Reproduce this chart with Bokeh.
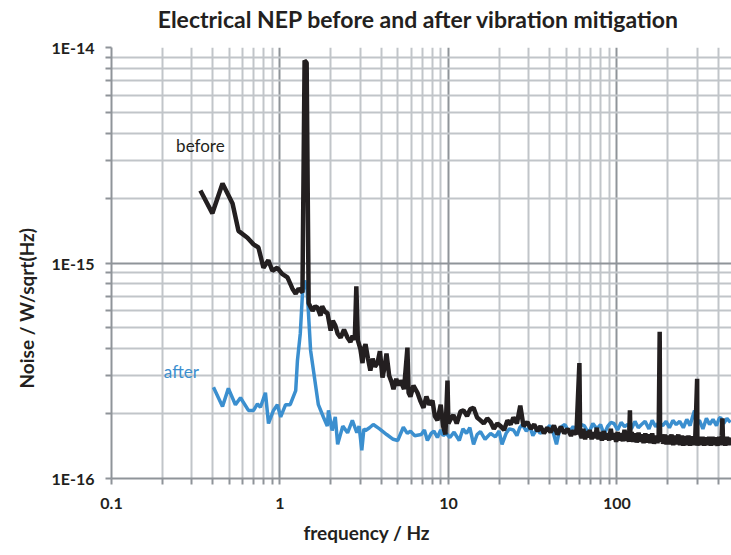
from bokeh.plotting import figure
from bokeh.models import FixedTicker, CustomJSTickFormatter, Label, Range1d, Title, LogAxis
from bokeh.embed import file_html
from bokeh.resources import INLINE

# ---- data (frequency in Hz, noise in units of 1e-16 W/sqrt(Hz)) ----
before_f = [0.337, 0.397, 0.456, 0.523, 0.567, 0.641, 0.697, 0.745, 0.798, 0.853,
            0.901, 0.965, 1.03, 1.108, 1.186, 1.24, 1.29, 1.36, 1.40, 1.44, 1.48,
            1.56, 1.62, 1.67, 1.74, 1.78, 1.86, 1.91, 2.0, 2.06, 2.13, 2.2, 2.29,
            2.4, 2.52, 2.62, 2.70, 2.78, 2.84, 2.90, 3.0, 3.09, 3.15, 3.22, 3.33,
            3.44, 3.55, 3.66, 3.79, 3.92, 4.06, 4.18, 4.29, 4.45, 4.60, 4.72, 4.90,
            5.05, 5.19, 5.45, 5.71, 5.8, 5.95, 6.2, 6.55, 6.8, 7.11, 7.4, 7.7, 8.04,
            8.3, 8.61, 9.0, 9.3, 9.6, 9.87, 10.0,
            10.2, 10.7, 11.2, 11.8, 12.3, 12.9, 13.5, 14.1, 14.8, 15.5, 16.2, 17.0,
            17.8, 18.6, 19.5, 20.4, 21.4, 22.4, 23.4, 24.3, 25.5, 26.7, 27.9, 29.4,
            30.8, 32.3, 33.8, 35.2, 36.9, 38.6, 40.4, 42.3, 44.4, 46.5, 48.7, 51.0,
            53.4, 55.2, 57.5, 59.9, 60.5, 61.8,
            63.2, 64.8, 66.0, 67.5, 69.0, 70.8, 72.5, 74.2, 76.0, 77.8, 79.5, 81.5,
            83.5, 85.6, 87.8, 90, 92, 94, 96.5, 99, 101, 103.5, 106, 108.5, 111,
            113.5, 116, 118, 119.5, 120.5, 122.5, 125, 128, 131, 134.5, 138, 141,
            144, 147.5, 151, 154.5, 158, 162, 166, 170, 174, 177, 179.5, 180.5, 184,
            188, 192.5, 197, 201.5, 206, 211, 216, 221, 226, 231.5, 237, 242.5, 248,
            254, 260, 266, 272, 278.5, 285, 292, 299.5, 300.5, 307.5, 315, 322.5,
            330, 337.5, 345, 353, 361, 369.5, 378, 387, 396, 405, 415, 419, 423, 427,
            430, 440, 450, 461, 472]
before_v = [21.7, 17.0, 23.4, 18.9, 14.1, 13.1, 12.2, 11.8, 9.5, 10.3,
            9.2, 9.5, 8.9, 8.57, 7.6, 7.2, 7.6, 7.3, 87.0, 85.0, 6.5,
            6.0, 6.3, 6.2, 5.7, 6.3, 5.9, 5.9, 4.86, 5.4, 5.13, 4.7, 4.5,
            4.9, 4.5, 4.3, 4.6, 4.4, 7.8, 4.37, 4.0, 3.43, 4.0, 4.2, 3.6,
            3.17, 3.6, 3.3, 3.43, 3.9, 2.94, 3.3, 3.8, 3.0, 2.8, 2.6, 2.9,
            2.7, 2.85, 2.6, 4.05, 2.5, 2.4, 2.7, 2.5, 2.3, 2.13, 2.4, 2.2, 2.3,
            1.95, 1.86, 2.2, 1.75, 1.6, 2.85, 1.8,
            1.86, 1.97, 1.80, 2.05, 2.07, 1.95, 2.10, 2.13, 1.92, 1.86, 1.80, 1.90,
            1.83, 1.70, 1.80, 1.75, 1.68, 1.86, 1.78, 1.92, 1.80, 2.18, 1.75, 1.83,
            1.70, 1.78, 1.66, 1.75, 1.62, 1.72, 1.64, 1.76, 1.60, 1.74, 1.62, 1.70,
            1.58, 1.67, 1.60, 3.43, 1.62, 1.54,
            1.70, 1.52, 1.66, 1.55, 1.68, 1.52, 1.64, 1.54, 1.72, 1.52, 1.64, 1.50,
            1.66, 1.52, 1.62, 1.50, 1.70, 1.52, 1.62, 1.48, 1.64, 1.50, 1.62, 1.49, 1.68,
            1.50, 1.60, 1.48, 2.07, 1.52, 1.64, 1.48, 1.62, 1.47, 1.63, 1.48, 1.60,
            1.46, 1.62, 1.47, 1.60, 1.46, 1.62, 1.45, 1.58, 1.46, 1.60, 4.80, 1.48, 1.60,
            1.45, 1.60, 1.44, 1.58, 1.44, 1.60, 1.43, 1.58, 1.44, 1.60, 1.43, 1.58, 1.42,
            1.57, 1.43, 1.58, 1.42, 1.57, 1.43, 1.56, 2.90, 1.42, 1.56, 1.43, 1.56,
            1.42, 1.55, 1.43, 1.56, 1.42, 1.56, 1.43, 1.55, 1.42, 1.56, 1.43, 1.58, 1.90, 1.45,
            1.56, 1.42, 1.56, 1.43, 1.55]

after_f = [0.403, 0.456, 0.494, 0.544, 0.583, 0.650, 0.697, 0.735, 0.766, 0.820,
           0.855, 0.915, 0.965, 1.01, 1.08, 1.15, 1.24, 1.27, 1.32, 1.36, 1.40,
           1.45, 1.52, 1.69, 1.81, 1.91, 1.94, 2.04, 2.13, 2.2, 2.36,
           2.52, 2.69, 2.86, 2.95, 3.06, 3.15, 3.22, 3.4, 3.58, 3.9, 4.3, 4.7, 5.0,
           5.4, 5.7, 5.95, 6.3, 6.9, 7.2, 7.5, 7.9, 8.2, 8.6, 9.0, 9.3, 9.7, 10.2,
           10.8, 11.6, 12.2, 12.8, 13.4, 14.1, 14.8, 15.5, 16.5, 17.8, 19.0, 20.0,
           20.8, 22.0, 23.0, 24.3, 25.5, 26.5, 27.5, 29.0, 30.5, 31.7, 33.5, 35.0,
           37.7, 40.0, 42.0, 43.8, 46.0, 49.1, 52.0, 55.0, 57.9, 61, 64, 68, 72, 76,
           80, 84, 88, 92, 96, 101, 106, 111, 116, 122, 128, 134, 140, 147, 155, 162,
           170, 178, 187, 196, 205, 215, 225, 236, 248, 260, 272, 281, 289, 295, 309,
           324, 340, 355, 372, 390, 405, 413, 430, 450, 472]
after_v = [2.65, 2.16, 2.62, 2.2, 2.37, 2.07, 2.07, 2.22, 2.14, 2.5,
           1.8, 2.07, 2.2, 1.93, 2.2, 2.2, 2.56, 3.53, 4.7, 7.2, 8.3,
           7.5, 3.93, 2.2, 1.93, 1.75, 2.07, 1.67, 1.93, 1.44, 1.75,
           1.63, 1.86, 1.63, 1.75, 1.35, 1.70, 1.67, 1.72, 1.78, 1.70, 1.60, 1.52, 1.50,
           1.73, 1.62, 1.66, 1.58, 1.60, 1.68, 1.50, 1.62, 1.66, 1.55, 1.68, 1.58, 1.62, 1.55,
           1.64, 1.50, 1.70, 1.62, 1.72, 1.44, 1.60, 1.65, 1.52, 1.62, 1.56, 1.66,
           1.44, 1.62, 1.70, 1.68, 1.58, 1.72, 1.78, 1.66, 1.74, 1.58, 1.70, 1.62,
           1.68, 1.76, 1.62, 1.44, 1.72, 1.78, 1.64, 1.74, 1.66, 1.78, 1.76, 1.62, 1.80, 1.70,
           1.78, 1.60, 1.74, 1.82, 1.80, 1.68, 1.82, 1.74, 1.78, 1.70, 1.84, 1.72, 1.78, 1.84, 1.70, 1.86,
           1.74, 1.82, 1.76, 1.84, 1.72, 1.86, 1.78, 1.84, 1.72, 1.88, 1.76, 1.93, 2.07, 1.80, 1.86,
           1.70, 1.90, 1.78, 1.88, 1.76, 1.90, 1.92, 1.80, 1.90, 1.82]

x_major = [0.1, 1, 10, 100]
x_minor = [0.2, 0.3, 0.4, 0.5, 0.6, 0.7, 0.8, 0.9, 2, 3, 4, 5, 6, 7, 8, 9,
           20, 30, 40, 50, 60, 70, 80, 90, 200, 300, 400]
y_major = [1e-16, 1e-15, 1e-14]
y_minor = [2e-16, 3e-16, 4e-16, 5e-16, 6e-16, 7e-16, 8e-16, 9e-16,
           2e-15, 3e-15, 4e-15, 5e-15, 6e-15, 7e-15, 8e-15, 9e-15]

title_text = "Electrical NEP before and after vibration  mitigation"
x_label = "frequency / Hz"
y_label = "Noise  / W/sqrt(Hz)"

scale = 1e-16
bv = [v * scale for v in before_v]
av = [v * scale for v in after_v]

FONT = "Lato"
GRID_MINOR = "#c1c5c9"
GRID_MAJOR = "#8f9499"
BLACK = "#231f20"
BLUE = "#3b8fcf"

p = figure(width=731, height=555, x_axis_type="log", y_axis_type="log",
           x_range=Range1d(0.1, 479), y_range=Range1d(1e-16, 1e-14),
           output_backend="svg", toolbar_location=None,
           min_border_left=111, min_border_right=0, min_border_top=47,
           min_border_bottom=77)
p.outline_line_color = None
p.background_fill_color = "white"

for ax, ticks, minor in ((p.xaxis[0], x_major, x_minor), (p.yaxis[0], y_major, y_minor)):
    ax.ticker = FixedTicker(ticks=ticks, minor_ticks=minor)
    ax.axis_line_color = GRID_MAJOR
    ax.axis_line_width = 2
    ax.major_tick_line_color = GRID_MAJOR
    ax.minor_tick_line_color = GRID_MAJOR
    ax.major_tick_line_width = 2
    ax.minor_tick_line_width = 2
    ax.major_tick_out = 6
    ax.major_tick_in = 0
    ax.minor_tick_out = 6
    ax.minor_tick_in = 0
    ax.major_label_text_font = FONT
    ax.major_label_text_font_size = "16px"
    ax.major_label_text_font_style = "bold"
    ax.major_label_text_color = BLACK

p.xaxis.formatter = CustomJSTickFormatter(code="return tick.toString();")
p.yaxis.formatter = CustomJSTickFormatter(code="return '1E' + Math.round(Math.log10(tick));")
p.xaxis.major_label_standoff = 13
p.yaxis.major_label_standoff = 11

for g in (p.xgrid[0], p.ygrid[0]):
    g.grid_line_color = GRID_MAJOR
    g.grid_line_width = 2
    g.minor_grid_line_color = GRID_MINOR
    g.minor_grid_line_width = 2

p.line(after_f, av, line_color=BLUE, line_width=3.5)
p.line(before_f, bv, line_color=BLACK, line_width=4.5)

# chart title: label of a tick-less axis above the frame (keeps it 30px above the plot)
top_axis = LogAxis(ticker=FixedTicker(ticks=[]), axis_label=title_text,
                   axis_line_color=None, major_tick_out=0, major_tick_in=0,
                   minor_tick_out=0, minor_tick_in=0, major_label_standoff=0,
                   axis_label_standoff=15, axis_label_text_font=FONT,
                   axis_label_text_font_size="23px", axis_label_text_font_style="bold",
                   axis_label_text_color=BLACK)
p.add_layout(top_axis, "above")

# axis titles, positioned off-centre like the original
p.add_layout(Title(text=x_label, align="left", offset=192, standoff=15,
                   text_font=FONT, text_font_size="19px", text_font_style="bold",
                   text_color=BLACK), "below")
p.add_layout(Title(text=y_label, align="left", offset=90, standoff=22,
                   text_font=FONT, text_font_size="19px", text_font_style="bold",
                   text_color=BLACK), "left")

p.add_layout(Label(x=0.337, y=3.5e-15, text="before", text_align="center",
                   text_baseline="middle", text_font=FONT, text_font_size="17px",
                   text_color=BLACK))
p.add_layout(Label(x=0.26, y=3.14e-16, text="after", text_align="center",
                   text_baseline="middle", text_font=FONT, text_font_size="17px",
                   text_color=BLUE))

open("out.html", "w").write(file_html(p, INLINE))
